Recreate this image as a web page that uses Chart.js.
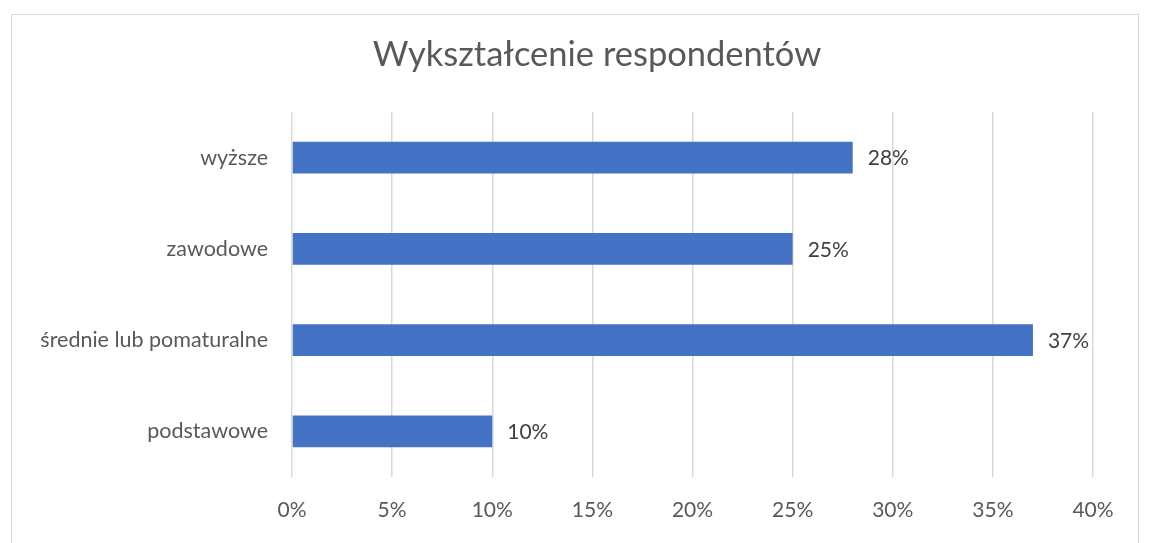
<!DOCTYPE html>
<html lang="pl">
<head>
<meta charset="utf-8">
<title>Wykształcenie respondentów</title>
<script src="https://cdn.jsdelivr.net/npm/chart.js@4"></script>
<style>
    html, body { margin: 0; padding: 0; background: #ffffff; overflow: hidden; }
    #frame {
        position: absolute;
        left: 11px; top: 14px;
        width: 1128px; height: 560px;
        border: 1.5px solid #d9d9d9;
        box-sizing: border-box;
    }
    #wrap { position: absolute; left: 0; top: 0; width: 1151px; height: 543px; }
</style>
</head>
<body>
<div id="frame"></div>
<div id="wrap"><canvas id="chart"></canvas></div>
<script>
const chartTitle = 'Wykształcenie respondentów';
const categories = ['wyższe', 'zawodowe', 'średnie lub pomaturalne', 'podstawowe'];
const shares = [28, 25, 37, 10]; // percent
const xTicks = [0, 5, 10, 15, 20, 25, 30, 35, 40];

const FONT = 'Lato, "Open Sans", sans-serif';
const TEXT = '#595959';

// title drawn centred over the frame like in the source chart
const titlePlugin = {
    id: 'frameTitle',
    afterDraw(chart) {
        const ctx = chart.ctx;
        ctx.save();
        ctx.font = '34.5px ' + FONT;
        ctx.fillStyle = TEXT;
        ctx.textAlign = 'center';
        ctx.textBaseline = 'middle';
        ctx.fillText(chartTitle, 597, 55);
        ctx.restore();
    }
};

// value labels at the end of each bar
const valueLabels = {
    id: 'valueLabels',
    afterDatasetsDraw(chart) {
        const ctx = chart.ctx;
        const meta = chart.getDatasetMeta(0);
        ctx.save();
        ctx.font = '21px ' + FONT;
        ctx.fillStyle = '#404040';
        ctx.textAlign = 'left';
        ctx.textBaseline = 'middle';
        meta.data.forEach((bar, i) => {
            ctx.fillText(shares[i] + '%', bar.x + 15, bar.y + 1);
        });
        ctx.restore();
    }
};

new Chart(document.getElementById('chart'), {
    type: 'bar',
    data: {
        labels: categories,
        datasets: [{
            data: shares,
            backgroundColor: '#4472c4',
            borderWidth: 0,
            categoryPercentage: 1,
            barPercentage: 0.35
        }]
    },
    options: {
        indexAxis: 'y',
        responsive: true,
        maintainAspectRatio: false,
        animation: false,
        layout: { padding: { top: 112, right: 58, left: 0, bottom: 0 } },
        plugins: {
            legend: { display: false },
            tooltip: { enabled: false }
        },
        scales: {
            x: {
                min: 0,
                max: 40,
                afterBuildTicks: (axis) => { axis.ticks = xTicks.map(v => ({ value: v })); },
                afterFit: (axis) => { axis.height = 66; },
                border: { display: false },
                grid: { color: '#d9d9d9', lineWidth: 1.5, drawTicks: false },
                ticks: {
                    color: TEXT,
                    font: { family: FONT, size: 21 },
                    padding: 21,
                    callback: (v) => v + '%'
                }
            },
            y: {
                afterFit: (axis) => { axis.width = 292; },
                border: { display: false },
                grid: { display: false },
                ticks: {
                    color: TEXT,
                    font: { family: FONT, size: 21.5 },
                    padding: 16
                }
            }
        }
    },
    plugins: [titlePlugin, valueLabels]
});
</script>
</body>
</html>
